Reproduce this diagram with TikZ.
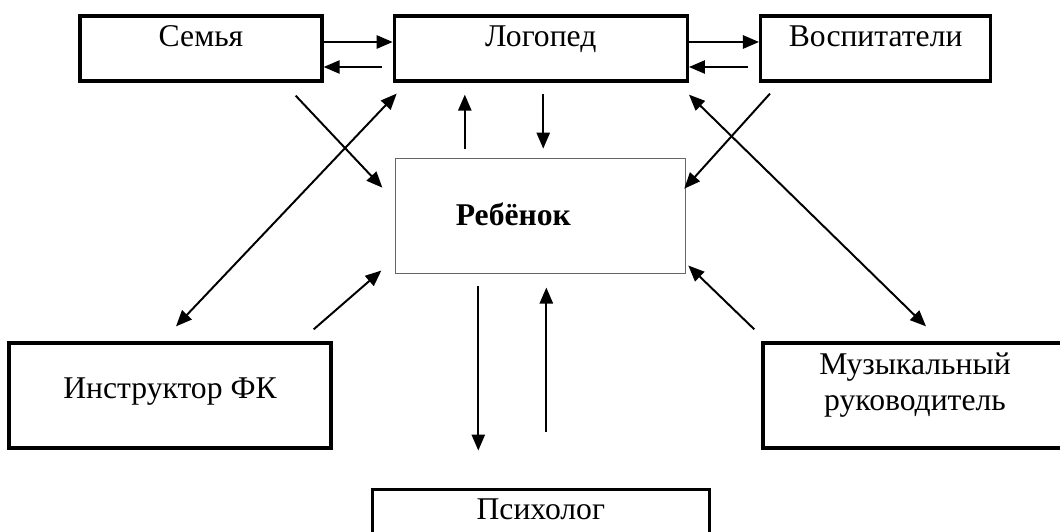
\documentclass[tikz,border=0pt]{standalone}
\usepackage{fontspec}
\setmainfont{Liberation Serif}
\usetikzlibrary{positioning,arrows.meta}
\begin{document}
\begin{tikzpicture}
            [x=0.025cm,y=-0.025cm,
             every node/.style={font=\fontsize{22.5}{25.6}\selectfont},
             box/.style={draw,line width=2.3pt,inner sep=0pt,align=center},
             top/.style={text height=0.775cm,text depth=0.85cm},
             arr/.style={-{Triangle[length=0.4cm,width=0.33cm]},line width=1.4pt},
             both/.style={{Triangle[length=0.4cm,width=0.33cm]}-{Triangle[length=0.4cm,width=0.33cm]},line width=1.4pt}]
            \useasboundingbox (0,0) rectangle (1060,532);
            \node[box,top,minimum width=6.05cm](semya) at (201,48.5) {Семья};
            \node[box,top,minimum width=7.325cm](logoped)[right=1.725cm of semya] {Логопед};
            \node[box,top,minimum width=5.75cm](vosp)[right=1.75cm of logoped] {Воспитатели};
            \node[draw=black!60,line width=0.6pt,inner ysep=0pt,inner xsep=1.5cm,text width=4.25cm,align=left,
                  text height=1.675cm,text depth=1.2cm,font=\fontsize{22.5}{25.6}\selectfont\bfseries](reb)[below=1.875cm of logoped] {Ребёнок};
            \node[box,minimum width=8.05cm,text height=1.375cm,text depth=1.25cm](instr) at (170,395.5) {Инструктор ФК};
            \node[box,minimum width=7.6cm,text height=1.675cm,text depth=0.95cm](muz) at (915,395.5) {Музыкальный\\руководитель};
            \node[box,minimum width=8.425cm,text height=0.75cm,text depth=0.875cm](psych)[below=5.35cm of reb] {Психолог};
            \draw[arr] ([yshift=0.1625cm]semya.east) -- ([yshift=0.1625cm]logoped.west);
            \draw[arr,shorten <=0.275cm] ([yshift=-0.4625cm]logoped.west) -- ([yshift=-0.4625cm]semya.east);
            \draw[arr] ([yshift=0.1625cm]logoped.east) -- ([yshift=0.1625cm]vosp.west);
            \draw[arr,shorten <=0.275cm] ([yshift=-0.4625cm]vosp.west) -- ([yshift=-0.4625cm]logoped.east);
            \draw[arr,shorten <=0.225cm,shorten >=0.3cm] ([xshift=-1.9cm]reb.north) -- ([xshift=-1.9cm]logoped.south);
            \draw[arr,shorten <=0.275cm,shorten >=0.225cm] ([xshift=0.06cm]logoped.south) -- ([xshift=0.06cm]reb.north);
            \draw[arr] ([shift={(-0.7cm,-0.325cm)}]semya.south east) -- ([shift={(-0.325cm,-0.75cm)}]reb.north west);
            \draw[both] ([shift={(0.15cm,0.375cm)}]instr.north) -- ([shift={(0.1cm,-0.275cm)}]logoped.south west);
            \draw[arr] ([shift={(-0.475cm,0.3cm)}]instr.north east) -- ([shift={(-0.35cm,0.075cm)}]reb.south west);
            \draw[arr] ([shift={(0.275cm,-0.275cm)}]vosp.south west) -- ([shift={(-0.05cm,-0.775cm)}]reb.north east);
            \draw[both] ([shift={(0cm,-0.3cm)}]logoped.south east) -- ([shift={(0.275cm,0.375cm)}]muz.north);
            \draw[arr] ([shift={(-0.175cm,0.3cm)}]muz.north west) -- ([shift={(0.05cm,0.2cm)}]reb.south east);
            \draw[arr,shorten <=0.3cm,shorten >=0.925cm] ([xshift=-1.5625cm]reb.south) -- ([xshift=-1.5625cm]psych.north);
            \draw[arr,shorten <=1.4cm,shorten >=0.35cm] ([xshift=0.1375cm]psych.north) -- ([xshift=0.1375cm]reb.south);
        \end{tikzpicture}
\end{document}
